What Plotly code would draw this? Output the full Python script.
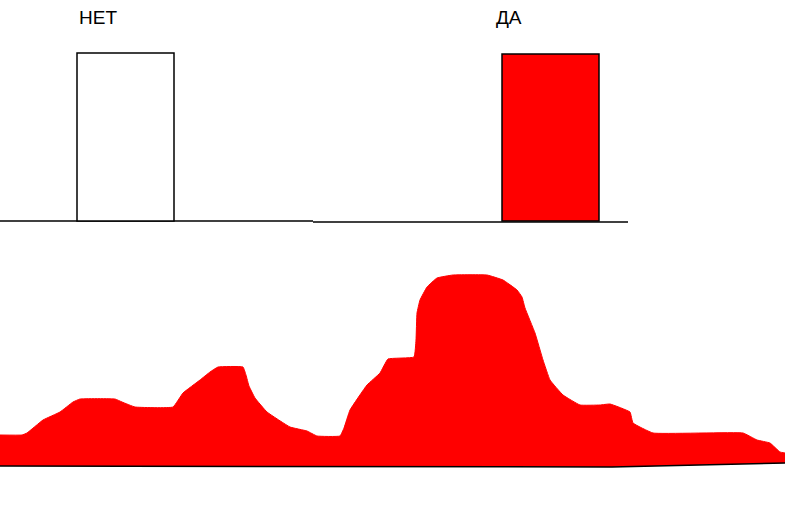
import plotly.graph_objects as go

# --- data ---
categories = ["НЕТ", "ДА"]
bar_values = [168, 167]
bar_colors = ["white", "#FF0000"]

profile_x = [0, 22, 27, 43, 60, 73, 80, 115, 122, 135, 173, 183, 200, 210, 218, 243,
             246, 249, 255, 267, 290, 307, 317, 340, 344, 350, 367, 380, 388, 414, 416,
             417, 420, 427, 437, 453, 487, 503, 517, 522, 525, 535, 543, 550, 563, 580,
             600, 610, 630, 633, 653, 743, 757, 770, 780, 785]
profile_y = [31, 31, 33, 46, 54, 64, 67, 67, 64, 59, 59, 73, 86, 94, 99, 99,
             91, 80, 68, 54, 39, 35, 30, 30, 38, 56, 81, 93, 107, 109, 126,
             153, 166, 179, 188, 191, 191, 186, 176, 169, 158, 133, 106, 86, 71, 61,
             61, 62, 54, 43, 33, 33, 26, 23, 14, 13]
base_x = [0, 600, 612, 785]
base_y = [0, -1, -1, 3]

W, H = 785, 518
fig = go.Figure()

# top: bars
idx = list(range(len(categories)))
fig.add_trace(go.Bar(
    x=idx, y=bar_values, marker=dict(color=bar_colors, line=dict(color="black", width=1.5)),
    width=97 / 425, xaxis="x", yaxis="y", showlegend=False, hoverinfo="skip"))

# bottom: area profile
fig.add_trace(go.Scatter(x=base_x, y=base_y, mode="lines", line=dict(color="black", width=1.5),
                         xaxis="x2", yaxis="y2", showlegend=False, hoverinfo="skip"))
fig.add_trace(go.Scatter(x=profile_x, y=profile_y, mode="lines", fill="tonexty",
                         fillcolor="#FF0000", line=dict(color="#FF0000", width=1, shape="spline", smoothing=0.3),
                         xaxis="x2", yaxis="y2", showlegend=False, hoverinfo="skip"))

def hide(**kw):
    d = dict(visible=False, showgrid=False, zeroline=False, fixedrange=True)
    d.update(kw)
    return d

label_font = dict(family="Liberation Sans, Arial", size=19, color="black")

fig.update_layout(
    width=W, height=H, margin=dict(l=0, r=0, t=0, b=0),
    paper_bgcolor="white", plot_bgcolor="rgba(0,0,0,0)",
    xaxis=hide(range=[-125.5 / 425, (785 - 125.5) / 425], domain=[0, 1]),
    yaxis=hide(range=[-10, 200], domain=[287 / 518, 497 / 518]),
    xaxis2=hide(range=[0, 785], domain=[0, 1], anchor="y2"),
    yaxis2=hide(range=[-10, 200], domain=[42 / 518, 252 / 518], anchor="x2"),
    shapes=[
        dict(type="line", xref="paper", yref="y", x0=0, x1=313 / 785, y0=0, y1=0,
             line=dict(color="black", width=1.5), layer="below"),
        dict(type="line", xref="paper", yref="y", x0=313 / 785, x1=628 / 785, y0=-1, y1=-1,
             line=dict(color="black", width=1.5), layer="below"),
    ],
    annotations=[
        dict(text=categories[0], x=0, xref="x", xshift=-28, y=(H - 17) / H, yref="paper",
             yanchor="middle", showarrow=False, font=label_font),
        dict(text=categories[1], x=1, xref="x", xshift=-41.5, y=(H - 17) / H, yref="paper",
             yanchor="middle", showarrow=False, font=label_font),
    ],
)

fig.write_html("out.html", config={"displayModeBar": False},
               post_script="document.body.style.margin='0';document.body.style.overflow='hidden';")
